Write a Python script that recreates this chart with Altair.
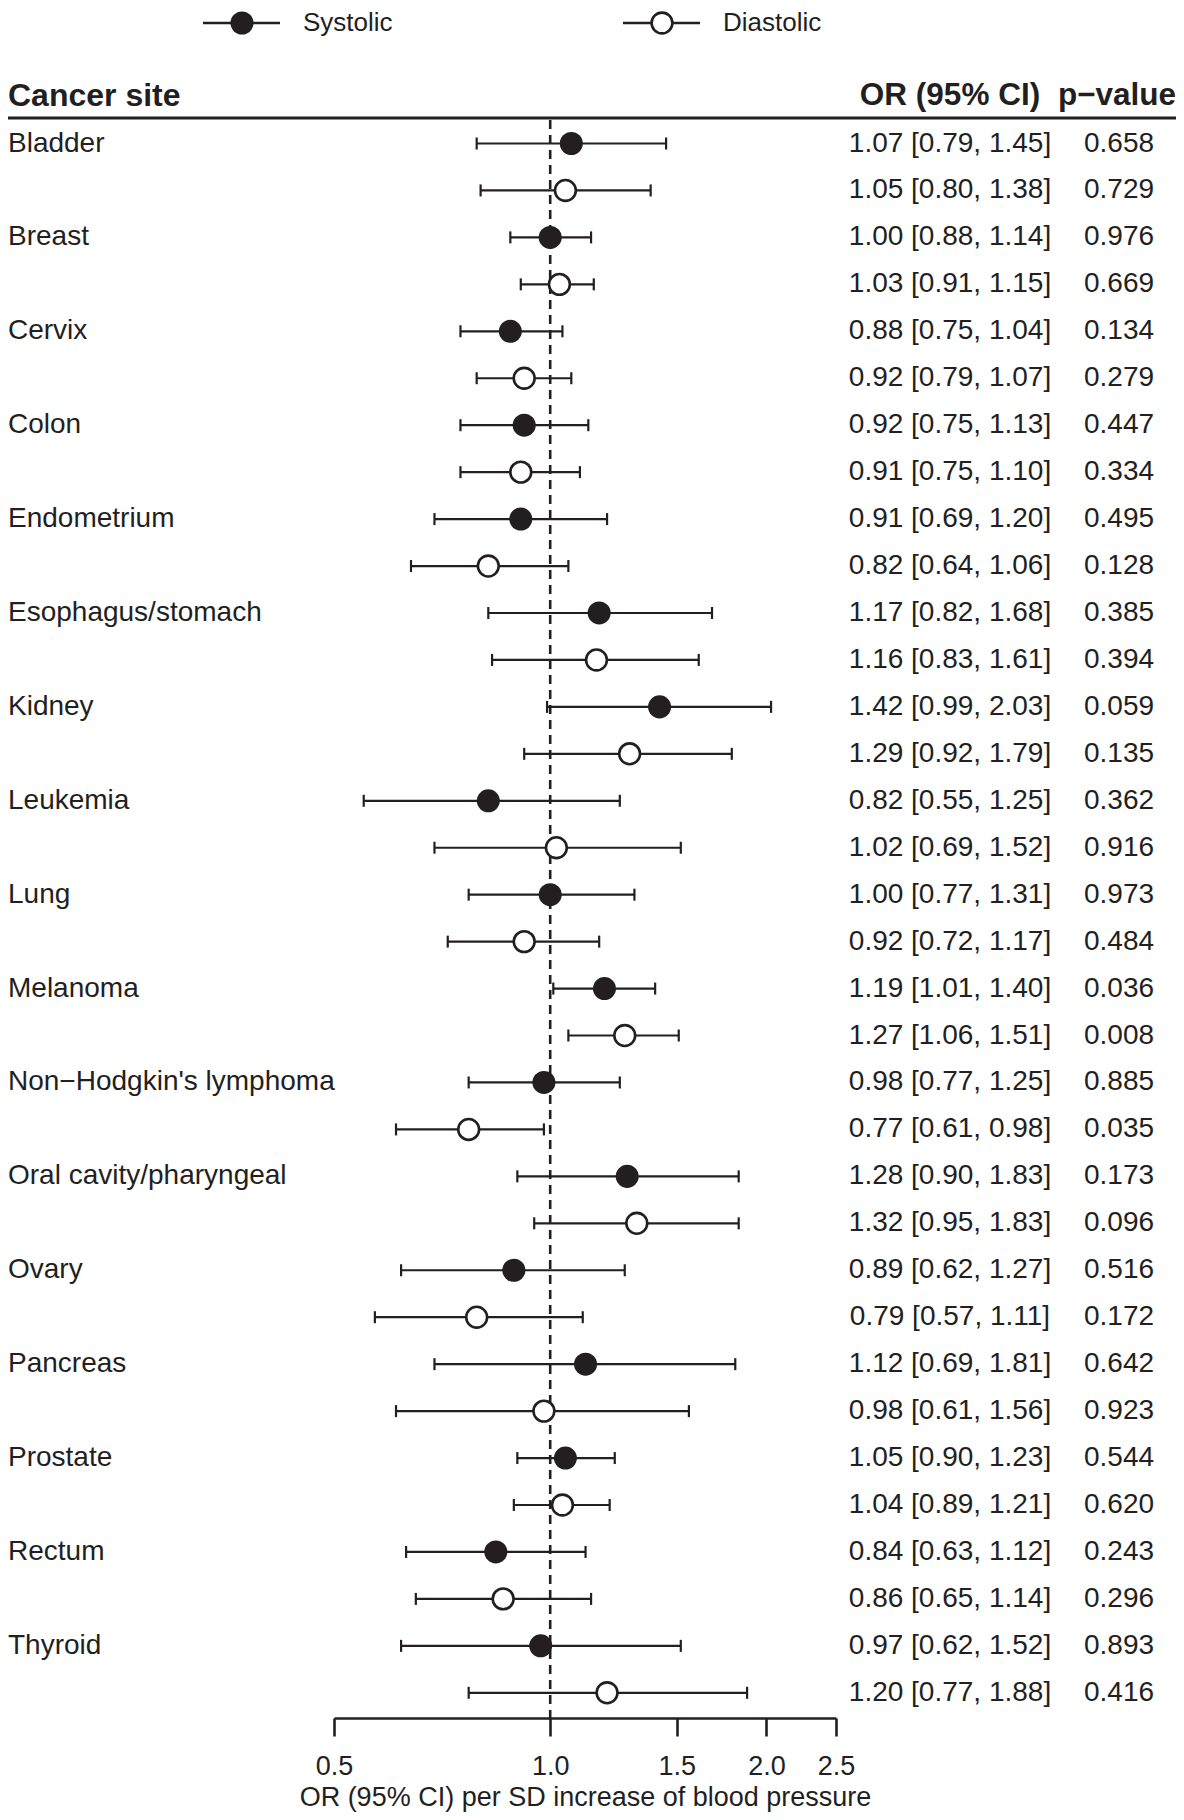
import altair as alt
import pandas as pd

sites = ["Bladder", "Breast", "Cervix", "Colon", "Endometrium", "Esophagus/stomach",
         "Kidney", "Leukemia", "Lung", "Melanoma", "Non\u2212Hodgkin's lymphoma",
         "Oral cavity/pharyngeal", "Ovary", "Pancreas", "Prostate", "Rectum", "Thyroid"]

sys_or = [1.07, 1.00, 0.88, 0.92, 0.91, 1.17, 1.42, 0.82, 1.00, 1.19, 0.98, 1.28, 0.89, 1.12, 1.05, 0.84, 0.97]
sys_lo = [0.79, 0.88, 0.75, 0.75, 0.69, 0.82, 0.99, 0.55, 0.77, 1.01, 0.77, 0.90, 0.62, 0.69, 0.90, 0.63, 0.62]
sys_hi = [1.45, 1.14, 1.04, 1.13, 1.20, 1.68, 2.03, 1.25, 1.31, 1.40, 1.25, 1.83, 1.27, 1.81, 1.23, 1.12, 1.52]
sys_p = [0.658, 0.976, 0.134, 0.447, 0.495, 0.385, 0.059, 0.362, 0.973, 0.036, 0.885, 0.173, 0.516, 0.642, 0.544, 0.243, 0.893]

dia_or = [1.05, 1.03, 0.92, 0.91, 0.82, 1.16, 1.29, 1.02, 0.92, 1.27, 0.77, 1.32, 0.79, 0.98, 1.04, 0.86, 1.20]
dia_lo = [0.80, 0.91, 0.79, 0.75, 0.64, 0.83, 0.92, 0.69, 0.72, 1.06, 0.61, 0.95, 0.57, 0.61, 0.89, 0.65, 0.77]
dia_hi = [1.38, 1.15, 1.07, 1.10, 1.06, 1.61, 1.79, 1.52, 1.17, 1.51, 0.98, 1.83, 1.11, 1.56, 1.21, 1.14, 1.88]
dia_p = [0.729, 0.669, 0.279, 0.334, 0.128, 0.394, 0.135, 0.916, 0.484, 0.008, 0.035, 0.096, 0.172, 0.923, 0.620, 0.296, 0.416]

series = ["Systolic", "Diastolic"]
x_ticks = [0.5, 1.0, 1.5, 2.0, 2.5]

rows = []
for i, s in enumerate(sites):
    for j, (o, lo, hi, p) in enumerate([(sys_or[i], sys_lo[i], sys_hi[i], sys_p[i]),
                                        (dia_or[i], dia_lo[i], dia_hi[i], dia_p[i])]):
        rows.append({
            "site": s, "series": series[j], "row": 2 * i + j,
            "or": o, "lo": lo, "hi": hi, "p": p,
            "ci_text": f"{o:.2f} [{lo:.2f}, {hi:.2f}]",
            "p_text": f"{p:.3f}",
        })
df = pd.DataFrame(rows)

INK = "#231f20"
FONT = "Liberation Sans"

xscale = alt.Scale(type="log", domain=[0.5, 2.5], range=[326, 828], nice=False)
yscale = alt.Scale(domain=[0, 33], range=[135.5, 1684.8], nice=False, zero=False)

xaxis = alt.Axis(values=x_ticks, format=".1f", grid=False, domainColor=INK, domainWidth=2.6,
                 tickColor=INK, tickWidth=2.6, tickSize=18, labelFontSize=27, labelColor=INK,
                 labelFont=FONT, labelPadding=17, title="OR (95% CI) per SD increase of blood pressure",
                 titleFont=FONT, titleFontSize=27, titleFontWeight="normal", titleColor=INK,
                 titleX=577, titleY=87, titleAlign="center", titleBaseline="alphabetic",
                 labelFlush=False)

base = alt.Chart(df)
Y = alt.Y("row:Q", scale=yscale, axis=None)

ref = alt.Chart(pd.DataFrame({"ref": [1.0]})).mark_rule(
    color=INK, strokeWidth=2.6, strokeDash=[9, 6]
).encode(x=alt.X("ref:Q", scale=xscale, axis=xaxis), y=alt.value(112), y2=alt.value(1710))

bars = base.mark_rule(color=INK, strokeWidth=2.2).encode(
    x=alt.X("lo:Q", scale=xscale, axis=xaxis), x2="hi:Q", y=Y)

cap_lo = base.mark_tick(orient="vertical", size=12, thickness=2.2, color=INK, opacity=1).encode(
    x=alt.X("lo:Q", scale=xscale), y=Y)
cap_hi = base.mark_tick(orient="vertical", size=12, thickness=2.2, color=INK, opacity=1).encode(
    x=alt.X("hi:Q", scale=xscale), y=Y)

pts_sys = base.transform_filter(alt.datum.series == "Systolic").mark_point(
    shape="circle", filled=True, color=INK, size=530, opacity=1).encode(
    x=alt.X("or:Q", scale=xscale), y=Y)
pts_dia = base.transform_filter(alt.datum.series == "Diastolic").mark_point(
    shape="circle", filled=True, fill="white", stroke=INK, strokeWidth=2.6, size=434, opacity=1).encode(
    x=alt.X("or:Q", scale=xscale), y=Y)

labels = base.transform_filter(alt.datum.series == "Systolic").mark_text(
    align="left", baseline="middle", font=FONT, fontSize=28, color=INK).encode(
    x=alt.value(0), y=Y, text="site:N")
ci_txt = base.mark_text(align="center", baseline="middle", font=FONT, fontSize=28, color=INK).encode(
    x=alt.value(942), y=Y, text="ci_text:N")
p_txt = base.mark_text(align="center", baseline="middle", font=FONT, fontSize=28, color=INK).encode(
    x=alt.value(1111), y=Y, text="p_text:N")

hdr = pd.DataFrame({"h": ["Cancer site", "OR (95% CI)", "p\u2212value"]})
hdr_site = alt.Chart(hdr).transform_filter(alt.datum.h == "Cancer site").mark_text(
    align="left", baseline="middle", font=FONT, fontSize=32, fontWeight="bold", color=INK).encode(
    x=alt.value(0), y=alt.value(88), text="h:N")
hdr_or = alt.Chart(hdr).transform_filter(alt.datum.h == "OR (95% CI)").mark_text(
    align="center", baseline="middle", font=FONT, fontSize=31.5, fontWeight="bold", color=INK).encode(
    x=alt.value(942), y=alt.value(88), text="h:N")
hdr_p = alt.Chart(hdr).transform_filter(alt.datum.h == "p\u2212value").mark_text(
    align="center", baseline="middle", font=FONT, fontSize=31.5, fontWeight="bold", color=INK).encode(
    x=alt.value(1109), y=alt.value(88), text="h:N")
hdr_line = alt.Chart(pd.DataFrame({"a": [0]})).mark_rule(color=INK, strokeWidth=2.8).encode(
    x=alt.value(0), x2=alt.value(1168), y=alt.value(110))

leg = pd.DataFrame({"series": series})
LEG_Y = 15
def legend_entry(name, x0, filled):
    d = alt.Chart(leg).transform_filter(alt.datum.series == name)
    line = d.mark_rule(color=INK, strokeWidth=2.6).encode(
        x=alt.value(x0), x2=alt.value(x0 + 77), y=alt.value(LEG_Y))
    if filled:
        pt = d.mark_point(shape="circle", filled=True, color=INK, size=530, opacity=1).encode(
            x=alt.value(x0 + 39), y=alt.value(LEG_Y))
    else:
        pt = d.mark_point(shape="circle", filled=True, fill="white", stroke=INK, strokeWidth=2.6,
                          size=434, opacity=1).encode(x=alt.value(x0 + 39), y=alt.value(LEG_Y))
    txt = d.mark_text(align="left", baseline="middle", font=FONT, fontSize=26, color=INK).encode(
        x=alt.value(x0 + 100), y=alt.value(LEG_Y), text="series:N")
    return [line, pt, txt]

layers = [ref, bars, cap_lo, cap_hi, pts_sys, pts_dia, labels, ci_txt, p_txt,
          hdr_site, hdr_or, hdr_p, hdr_line] + legend_entry("Systolic", 195, True) + \
         legend_entry("Diastolic", 615, False)

chart = alt.layer(*layers).properties(
    width=1168, height=1710,
    padding={"left": 0, "top": 0, "right": 0, "bottom": 94},
    autosize=alt.AutoSizeParams(type="none"),
    background="white",
).configure_view(stroke=None)

chart.save("out.html", embed_options={"renderer": "svg", "actions": False})
